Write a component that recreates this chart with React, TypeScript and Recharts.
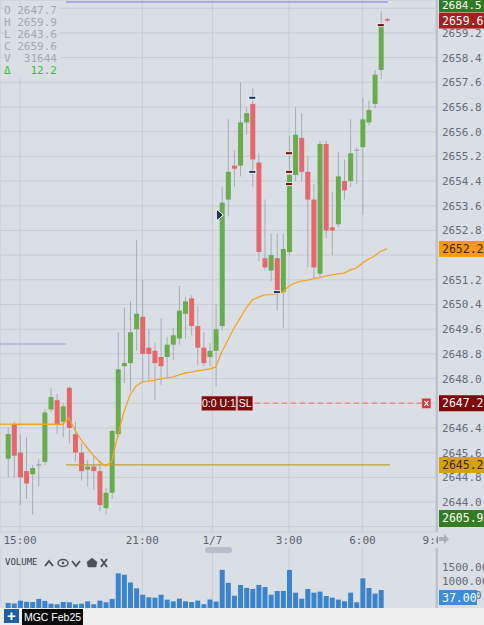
import React from 'react';
import {
  ComposedChart,
  Bar,
  Line,
  Scatter,
  XAxis,
  YAxis,
  CartesianGrid,
  ReferenceLine,
  ReferenceDot,
} from 'recharts';

// 15-minute bars, index 0 = 14:30
const opens = [
  2645.4, 2646.5, 2645.6, 2645.0, 2644.9, 2645.2, 2645.3, 2647.0, 2647.3, 2646.6,
  2647.7, 2646.2, 2645.6, 2645.05, 2645.15, 2645.0, 2643.8, 2644.3, 2646.2, 2648.4,
  2648.5, 2649.6, 2650.0, 2649.0, 2648.9, 2648.7, 2648.7, 2649.1, 2649.3, 2650.1,
  2650.6, 2649.7, 2649.0, 2648.7, 2648.9, 2649.7, 2653.8, 2654.9, 2654.9, 2656.3,
  2656.9, 2655.0, 2651.9, 2651.5, 2651.9, 2650.8, 2652.1, 2654.6, 2655.8, 2654.7,
  2653.8, 2651.4, 2655.6, 2652.9, 2653.0, 2654.4, 2654.4, 2655.4, 2655.5, 2656.3,
  2656.9, 2658.0, 2659.65,
];
const highs = [
  2646.4, 2646.6, 2646.2, 2646.1, 2645.2, 2645.4, 2647.0, 2647.7, 2647.5, 2647.2,
  2647.75, 2646.6, 2645.9, 2645.35, 2645.5, 2645.35, 2644.45, 2646.35, 2649.5, 2650.3,
  2650.5, 2652.5, 2651.2, 2649.6, 2649.15, 2649.95, 2649.35, 2649.65, 2651.0, 2650.65,
  2650.7, 2650.35, 2649.5, 2649.15, 2650.4, 2654.2, 2656.4, 2655.4, 2657.6, 2656.8,
  2657.4, 2655.3, 2653.8, 2652.7, 2652.7, 2652.7, 2655.85, 2656.8, 2656.6, 2655.2,
  2654.3, 2655.7, 2655.7, 2654.05, 2655.35, 2655.1, 2656.4, 2655.5, 2657.1, 2657.0,
  2658.0, 2659.9, 2659.7,
];
const lows = [
  2644.8, 2644.8, 2643.9, 2644.1, 2643.6, 2644.5, 2645.2, 2646.9, 2646.2, 2646.1,
  2645.9, 2645.3, 2644.7, 2644.5, 2644.4, 2643.7, 2643.6, 2644.1, 2646.1, 2647.85,
  2647.6, 2648.9, 2647.9, 2647.9, 2647.3, 2647.8, 2648.05, 2648.6, 2649.1, 2649.3,
  2649.4, 2648.45, 2648.4, 2648.4, 2647.75, 2649.55, 2653.25, 2654.2, 2654.55, 2655.9,
  2654.2, 2651.8, 2651.5, 2651.15, 2650.2, 2649.65, 2652.0, 2654.4, 2654.4, 2651.6,
  2651.25, 2651.3, 2652.55, 2652.0, 2652.9, 2653.8, 2654.2, 2654.3, 2653.3, 2656.2,
  2656.75, 2657.7, 2659.55,
];
const closes = [
  2646.2, 2645.5, 2644.8, 2644.6, 2645.1, 2645.2, 2646.9, 2647.4, 2646.5, 2647.1,
  2646.4, 2645.6, 2645.0, 2645.15, 2645.0, 2643.9, 2644.3, 2646.3, 2648.3, 2648.5,
  2649.5, 2650.1, 2648.8, 2648.8, 2648.5, 2648.4, 2649.1, 2649.4, 2650.2, 2650.5,
  2649.7, 2649.0, 2648.5, 2648.9, 2649.6, 2653.7, 2654.7, 2654.8, 2656.3, 2656.6,
  2655.1, 2652.1, 2651.6, 2652.0, 2650.8, 2652.2, 2654.6, 2655.9, 2654.7, 2653.8,
  2651.6, 2655.6, 2652.8, 2652.8, 2654.55, 2654.1, 2655.3, 2655.4, 2656.4, 2656.7,
  2657.85, 2659.45, 2659.6,
];
const volumes = [
  214, 200, 300, 260, 250, 360, 290, 190, 170, 250,
  240, 170, 190, 275, 170, 300, 240, 360, 1275, 1225,
  950, 740, 510, 420, 405, 510, 335, 275, 370, 275,
  250, 300, 170, 340, 265, 1400, 935, 475, 860, 750,
  715, 860, 785, 510, 645, 645, 1400, 585, 370, 715,
  585, 620, 465, 405, 335, 275, 585, 240, 1095, 750,
  550, 680, 37,
];
const vwap = [
  2646.52, 2646.52, 2646.52, 2646.52, 2646.52, 2646.52, 2646.52, 2646.52, 2646.52, 2646.52,
  2646.72, 2646.33, 2646.01, 2645.75, 2645.52, 2645.3, 2645.17, 2645.3, 2646.17, 2646.92,
  2647.47, 2647.76, 2647.89, 2647.92, 2647.95, 2647.99, 2648.02, 2648.05, 2648.12, 2648.18,
  2648.21, 2648.25, 2648.28, 2648.31, 2648.37, 2648.86, 2649.25, 2649.64, 2649.96, 2650.29,
  2650.55, 2650.64, 2650.71, 2650.72, 2650.74, 2650.8, 2651.0, 2651.1, 2651.16, 2651.19,
  2651.23, 2651.27, 2651.32, 2651.36, 2651.39, 2651.42, 2651.52, 2651.58, 2651.74, 2651.87,
  2651.97, 2652.13, 2652.2,
];

const timeTicks = [2, 22, 33.47, 46, 58, 70];
const timeLabels = ['15:00', '21:00', '1/7', '3:00', '6:00', '9:00'];
const priceTicks = [
  2643.2, 2644.0, 2644.8, 2645.6, 2646.4, 2647.2, 2648.0, 2648.8, 2649.6, 2650.4, 2651.2,
  2652.0, 2652.8, 2653.6, 2654.4, 2655.2, 2656.0, 2656.8, 2657.6, 2658.4, 2659.2, 2660.0,
];
// labels that sit fully behind a price badge
const hiddenPriceTicks = [2643.2, 2647.2, 2652.0, 2660.0];
const volumeTicks = [500, 1000, 1500];

// order fills drawn on the bars
const fills = [
  { i: 40, p: 2657.1, c: '#1b3563' },
  { i: 40, p: 2654.7, c: '#1b3563' },
  { i: 44, p: 2650.8, c: '#1b3563' },
  { i: 46, p: 2655.3, c: '#7a0c0c' },
  { i: 46, p: 2654.7, c: '#7a0c0c' },
  { i: 46, p: 2654.3, c: '#7a0c0c' },
  { i: 61, p: 2659.45, c: '#7a0c0c' },
];

const header = [
  { k: 'O', v: '2647.7' },
  { k: 'H', v: '2659.9' },
  { k: 'L', v: '2643.6' },
  { k: 'C', v: '2659.6' },
  { k: 'V', v: ' 31644' },
];
const change = '12.2';

const prevHigh = 2660.2;
const prevLow = 2649.12;
const goldLevel = 2645.2;
const stopLevel = 2647.2;

const BG = '#dadfe6';
const GRID = '#c7ccd5';
const VWAP_COLOR = '#f4a424';
const MONO = '"DejaVu Sans Mono", monospace';
const SANS = '"Liberation Sans", Arial, sans-serif';
const X_DOMAIN = [-1.27, 70.2];
const PRICE_DOMAIN = [2643.028, 2660.267];
const VOLUME_DOMAIN = [0, 2180];
const MARGIN = { top: 0, right: 0, bottom: 0, left: 0 };

const candles = opens.map((o, i) => ({
  i,
  open: o,
  high: highs[i],
  low: lows[i],
  close: closes[i],
  vwap: vwap[i],
  volume: volumes[i],
}));

const last = candles.length - 1;

function Candle(props: any) {
  const { x, y, width, height, payload } = props;
  const { open, close, high, low } = payload;
  const k = height / (high - low);
  const py = (v: number) => y + (high - v) * k;
  const cx = x + width / 2;
  const top = py(Math.max(open, close));
  const bot = py(Math.min(open, close));
  const flat = open === close;
  const color = flat ? '#9aa0a8' : close > open ? '#6aab4e' : '#e4676a';
  return (
    <g>
      <line x1={cx} x2={cx} y1={y} y2={y + height} stroke="#a7acb4" strokeWidth={1} />
      {flat ? (
        <line x1={cx - 2.5} x2={cx + 2.5} y1={top} y2={top} stroke={color} strokeWidth={1.2} />
      ) : (
        <rect x={cx - 2.5} y={top} width={5} height={Math.max(1.5, bot - top)} fill={color} />
      )}
    </g>
  );
}

function FillMark(props: any) {
  const { cx, cy, payload } = props;
  return (
    <rect x={cx - 3.5} y={cy - 1.5} width={7} height={3} fill={payload.c} stroke="#ffffff" strokeWidth={0.8} />
  );
}

function Arrow(props: any) {
  const { cx, cy } = props;
  return (
    <path
      d={`M${cx - 3},${cy - 6} L${cx + 4},${cy} L${cx - 3},${cy + 6} Z`}
      fill="#1d2f55"
      stroke="#ffffff"
      strokeWidth={1}
    />
  );
}

const priceBadge = (text: string, bg: string, fg: string) => (p: any) => {
  const vb = p.viewBox;
  const x = vb.x + vb.width + 2;
  return (
    <g>
      <rect x={x} y={vb.y - 8} width={46} height={16} fill={bg} />
      <text x={x + 3} y={vb.y + 4} fill={fg} fontSize={11.5} fontFamily={MONO}>
        {text}
      </text>
    </g>
  );
};

const volumeBadge = (text: string) => (p: any) => {
  const vb = p.viewBox;
  const x = vb.x + vb.width + 2;
  const y = Math.min(vb.y - 7.5, 42);
  return (
    <g>
      <rect x={x} y={y} width={38} height={15} fill="#3b8ddc" />
      <text x={x + 3} y={y + 11.5} fill="#ffffff" fontSize={11.5} fontFamily={MONO}>
        {text}
      </text>
    </g>
  );
};

function stopLabel(p: any) {
  const vb = p.viewBox;
  const sx = vb.x;
  const ex = vb.x + vb.width;
  const cy = vb.y;
  return (
    <g fontFamily={SANS} fontSize={10.5} fill="#ffffff">
      <rect x={sx - 53} y={cy - 7} width={34} height={14} fill="#7a0c0c" stroke="#b04545" strokeWidth={0.6} />
      <text x={sx - 36} y={cy + 4} textAnchor="middle" fill="#ffffff">0:0 U:1</text>
      <rect x={sx - 17} y={cy - 7} width={14.5} height={14} fill="#7a0c0c" stroke="#b04545" strokeWidth={0.6} />
      <text x={sx - 9.7} y={cy + 4} textAnchor="middle" fill="#ffffff">SL</text>
      <rect x={ex} y={cy - 5} width={9} height={10} fill="#c63a3a" stroke="#f0b0b0" strokeWidth={0.6} />
      <path d={`M${ex + 2.5},${cy - 2.5} L${ex + 6.5},${cy + 2.5} M${ex + 6.5},${cy - 2.5} L${ex + 2.5},${cy + 2.5}`} stroke="#ffffff" strokeWidth={1.2} />
    </g>
  );
}

function TimeTick(props: any) {
  const { x, payload } = props;
  const idx = timeTicks.indexOf(payload.value);
  return (
    <text x={x} y={544} textAnchor="middle" fill="#5d626c" fontSize={11} fontFamily={MONO}>
      {timeLabels[idx]}
    </text>
  );
}

function PriceTick(props: any) {
  const { x, y, payload } = props;
  if (hiddenPriceTicks.includes(payload.value)) return <g />;
  return (
    <text x={x} y={y + 4} fill="#666b75" fontSize={11} fontFamily={MONO}>
      {payload.value.toFixed(1)}
    </text>
  );
}

function VolumeTick(props: any) {
  const { x, y, payload } = props;
  return (
    <text x={x} y={y + 4} fill="#666b75" fontSize={11} fontFamily={MONO}>
      {payload.value.toFixed(2)}
    </text>
  );
}

function PaneIcons() {
  return (
    <svg width={64} height={12} style={{ position: 'absolute', left: 44, top: 557 }}>
      <g stroke="#4f535a" strokeWidth={2} fill="none">
        <path d="M1,9 L5,4 L9,9" />
        <ellipse cx={19} cy={6} rx={5} ry={3.5} strokeWidth={1.5} />
        <circle cx={19} cy={6} r={1.3} fill="#4f535a" strokeWidth={0} />
        <path d="M28,4 L32,9 L36,4" />
        <path d="M48,1 L43,5 L44,10 L52,10 L53,5 Z" fill="#4f535a" strokeWidth={0.5} />
        <path d="M57,2 L63,10 M63,2 L57,10" />
      </g>
    </svg>
  );
}

const overlay: React.CSSProperties = { position: 'absolute', left: 0, pointerEvents: 'none' };

export default function App() {
  return (
    <div
      style={{
        position: 'relative',
        width: 484,
        height: 625,
        background: BG,
        overflow: 'hidden',
        fontFamily: MONO,
      }}
    >
      <style>{'body{margin:0}'}</style>

      <div style={{ ...overlay, top: 0 }}>
        <ComposedChart width={484} height={550} data={candles} margin={MARGIN}>
          <CartesianGrid stroke={GRID} />
          <XAxis
            dataKey="i"
            type="number"
            domain={X_DOMAIN}
            ticks={timeTicks}
            interval={0}
            allowDataOverflow
            axisLine={false}
            tickLine={false}
            height={18}
            tick={<TimeTick />}
          />
          <YAxis
            orientation="right"
            width={47}
            domain={PRICE_DOMAIN}
            ticks={priceTicks}
            interval={0}
            allowDataOverflow
            axisLine={{ stroke: '#bcc1cb', strokeWidth: 2 }}
            tickLine={false}
            tickSize={3}
            tickMargin={2}
            tick={<PriceTick />}
          />
          <ReferenceLine
            segment={[{ x: 9.5, y: prevHigh }, { x: 62.2, y: prevHigh }]}
            stroke="#a297dc"
            strokeWidth={1.5}
          />
          <ReferenceLine
            segment={[{ x: -1.27, y: prevLow }, { x: 9.5, y: prevLow }]}
            stroke="#a297dc"
            strokeWidth={1.2}
          />
          <ReferenceLine
            segment={[{ x: 9.5, y: goldLevel }, { x: 62.5, y: goldLevel }]}
            stroke="#bca23a"
            strokeWidth={1.2}
          />
          <ReferenceLine
            segment={[{ x: 40.42, y: stopLevel }, { x: 67.73, y: stopLevel }]}
            stroke="#ea8c8c"
            strokeWidth={1.3}
            strokeDasharray="5 4"
            label={stopLabel}
          />
          {/* carried-over vwap before the first visible bar */}
          <ReferenceLine
            segment={[{ x: -1.27, y: vwap[0] }, { x: 0, y: vwap[0] }]}
            stroke={VWAP_COLOR}
            strokeWidth={1.3}
          />
          <Line
            dataKey="vwap"
            type="linear"
            stroke={VWAP_COLOR}
            strokeWidth={1.3}
            dot={false}
            activeDot={false}
            isAnimationActive={false}
          />
          <Bar
            dataKey={(d: any) => [d.low, d.high]}
            shape={<Candle />}
            barSize={5}
            isAnimationActive={false}
          />
          <Scatter data={fills} dataKey="p" shape={<FillMark />} isAnimationActive={false} />
          <ReferenceDot x={34.6} y={2653.3} shape={<Arrow />} />
        </ComposedChart>
      </div>

      {/* price badges, drawn above the axis labels */}
      <div style={{ ...overlay, top: 0 }}>
        <ComposedChart width={484} height={550} data={candles} margin={MARGIN}>
          <XAxis dataKey="i" type="number" domain={X_DOMAIN} allowDataOverflow height={18} tick={false} axisLine={false} tickLine={false} />
          <YAxis orientation="right" width={47} domain={PRICE_DOMAIN} allowDataOverflow tick={false} axisLine={false} tickLine={false} />
          <ReferenceLine y={vwap[last]} stroke="none" label={priceBadge(vwap[last].toFixed(1), '#f59a0b', '#3a2a10')} />
          <ReferenceLine y={stopLevel} stroke="none" label={priceBadge(stopLevel.toFixed(1), '#7e0808', '#ffffff')} />
          <ReferenceLine y={goldLevel} stroke="none" label={priceBadge(goldLevel.toFixed(1), '#d6a20c', '#3a2a10')} />
          <ReferenceLine y={closes[last]} stroke="none" label={priceBadge(closes[last].toFixed(1), '#a61e1e', '#ffffff')} />
        </ComposedChart>
      </div>

      <div style={{ ...overlay, top: 548 }}>
        <ComposedChart width={484} height={61} data={candles} margin={MARGIN}>
          <CartesianGrid stroke={GRID} horizontal={false} />
          <XAxis dataKey="i" type="number" domain={X_DOMAIN} ticks={timeTicks} allowDataOverflow hide />
          <YAxis
            orientation="right"
            width={47}
            domain={VOLUME_DOMAIN}
            ticks={volumeTicks}
            interval={0}
            allowDataOverflow
            axisLine={{ stroke: '#bcc1cb', strokeWidth: 2 }}
            tickLine={false}
            tickSize={3}
            tickMargin={2}
            tick={<VolumeTick />}
          />
          <Bar dataKey="volume" fill="#3b84cb" barSize={5} isAnimationActive={false} />
        </ComposedChart>
      </div>

      <div style={{ ...overlay, top: 548 }}>
        <ComposedChart width={484} height={61} data={candles} margin={MARGIN}>
          <XAxis dataKey="i" type="number" domain={X_DOMAIN} allowDataOverflow hide />
          <YAxis orientation="right" width={47} domain={VOLUME_DOMAIN} allowDataOverflow tick={false} axisLine={false} tickLine={false} />
          <ReferenceLine y={volumes[last]} stroke="none" label={volumeBadge(volumes[last].toFixed(2))} />
        </ComposedChart>
      </div>

      {/* OHLC readout */}
      <div
        style={{
          position: 'absolute',
          left: 4,
          top: 5,
          width: 56,
          height: 72,
          background: BG,
          fontSize: 11,
          lineHeight: '12px',
          whiteSpace: 'pre',
          color: '#a3a8b2',
        }}
      >
        {header.map((h) => (
          <div key={h.k}>{`${h.k} ${h.v}`}</div>
        ))}
        <div style={{ color: '#38c238' }}>{`\u0394   ${change}`}</div>
      </div>

      {/* pinned badges outside the visible range */}
      <div style={{ position: 'absolute', left: 439, top: 0, width: 46, height: 12, background: '#2f7a22', color: '#fff', fontSize: 11, lineHeight: '12px', paddingLeft: 3 }}>
        2684.5
      </div>
      <div style={{ position: 'absolute', left: 439, top: 510, width: 46, height: 17, background: '#357c24', color: '#fff', fontSize: 11.5, lineHeight: '17px', paddingLeft: 3 }}>
        2605.9
      </div>

      {/* clip of the time row under the price scale */}
      <div style={{ position: 'absolute', left: 438, top: 531, width: 46, height: 17, background: BG }}>
        <svg width={12} height={12} style={{ position: 'absolute', left: 0, top: 2 }}>
          <path d="M1,4 L6,4 L6,1 L11,6 L6,11 L6,8 L1,8 Z" fill="#aab0ba" />
        </svg>
      </div>

      {/* scrollbar thumb */}
      <div style={{ position: 'absolute', left: 205, top: 547, width: 27, height: 6, background: '#b9bdcc', borderRadius: 3 }} />

      <div style={{ position: 'absolute', left: 5, top: 557, fontSize: 9, color: '#3a3d42', lineHeight: '11px' }}>VOLUME</div>
      <PaneIcons />

      {/* bottom bar */}
      <div style={{ position: 'absolute', left: 0, top: 608, width: 484, height: 17, background: '#efefef' }}>
        <div style={{ position: 'absolute', left: 4, top: 1, width: 15, height: 14, background: '#1d5fa3', color: '#fff', fontFamily: SANS, fontWeight: 'bold', fontSize: 15, lineHeight: '14px', textAlign: 'center' }}>
          +
        </div>
        <div style={{ position: 'absolute', left: 22, top: 1, width: 61, height: 16, background: '#0b0b0b', color: '#fff', fontFamily: SANS, fontSize: 10.5, lineHeight: '16px', textAlign: 'center' }}>
          MGC Feb25
        </div>
      </div>
    </div>
  );
}
